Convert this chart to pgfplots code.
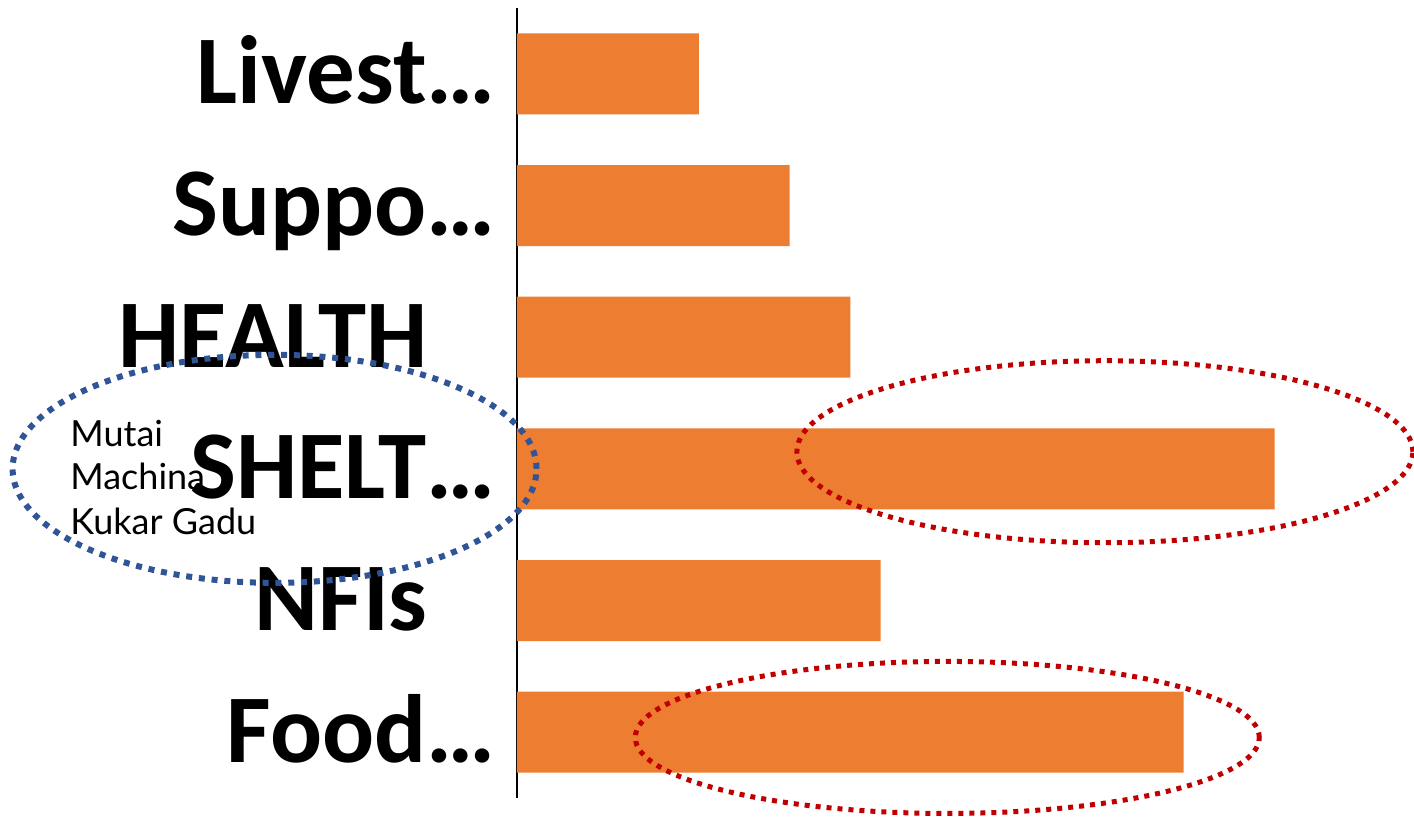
\documentclass[border=0pt]{standalone}
\usepackage{fontspec}
\usepackage{pgfplots}
\pgfplotsset{compat=1.18}
\newfontfamily\labelfont{Carlito}
\newfontfamily\notefont{Lato}
\definecolor{barorange}{HTML}{ED7D31}
\definecolor{ringblue}{HTML}{2F5597}
\definecolor{ringred}{HTML}{C00000}
\begin{document}
\begin{tikzpicture}
\path[use as bounding box] (-258.5pt,-10.5pt) rectangle (448.5pt,399pt);
\begin{axis}[
  at={(0,0)}, anchor=south west,
  scale only axis, width=448.5pt, height=395pt,
  xbar, bar width=40.5pt,
  xmin=0, xmax=29.6,
  ymin=-0.5, ymax=5.5, y dir=reverse,
  hide x axis,
  axis y line*=left,
  y axis line style={-, line width=0.85pt},
  ytick={0,1,2,3,4,5},
  yticklabels={Livest…, Suppo…, HEALTH\rule{34pt}{0pt}, SHELT…, NFIs\rule{34pt}{0pt}, Food…},
  major tick length=0pt,
  yticklabel style={font=\labelfont\bfseries\fontsize{48.5}{48.5}\selectfont,
    anchor=base east, inner sep=0pt, xshift=-10.5pt, yshift=-15pt},
  clip=false,
]
\addplot[draw=none, fill=barorange] coordinates {
  (6,0) (9,1) (11,2) (25,3) (12,4) (22,5)};
\draw[ringblue, line width=3pt, dash pattern=on 3pt off 3.4pt]
  (axis cs:-8.0,3.0) ellipse [x radius=131pt, y radius=57pt];
\draw[ringred, line width=2.5pt, dash pattern=on 2.5pt off 3pt]
  (axis cs:19.4,2.87) ellipse [x radius=154pt, y radius=45.5pt];
\draw[ringred, line width=2.5pt, dash pattern=on 2.5pt off 3pt]
  (axis cs:14.2,5.04) ellipse [x radius=156pt, y radius=38pt];
\end{axis}
\begin{scope}[every node/.style={anchor=base west, inner sep=0pt,
    font=\notefont\fontsize{18}{21}\selectfont}]
\node at (-223.5pt,175.5pt) {Mutai};
\node at (-223.5pt,154pt) {Machina};
\node at (-223.5pt,131.5pt) {Kukar Gadu};
\end{scope}
\end{tikzpicture}
\end{document}
